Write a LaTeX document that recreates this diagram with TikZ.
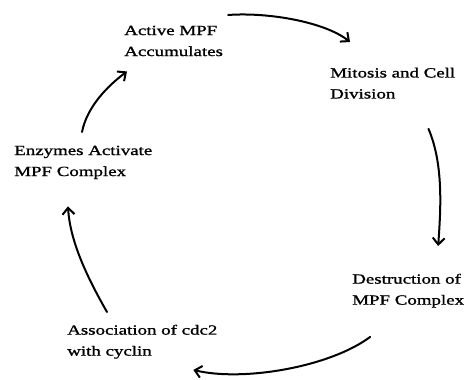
\documentclass[tikz,border=0pt]{standalone}
\usepackage{fontspec}
\setmainfont{Liberation Serif}[FakeStretch=1.35,FakeBold=1.2]
\usetikzlibrary{arrows.meta,calc}

\begin{document}
\begin{tikzpicture}[x=0.75pt,y=0.75pt,yscale=-1,xscale=1,
  stage/.style={anchor=north west,inner sep=0pt,align=left,font=\fontsize{10.5}{15.75}\selectfont},
  cyc/.style={line width=1.5pt,line cap=round,-{Straight Barb[length=5pt,width=9pt]}}]
\useasboundingbox (0,0) rectangle (467,379);

% Text Node
\node [stage] (acc) at (124,25.5) {Active MPF\\Accumulates};
% Text Node
\node [stage] (mit) at (330,67.5) {Mitosis and Cell\\Division};
% Text Node
\node [stage] (des) at (352,273.5) {Destruction of\\MPF Complex};
% Text Node
\node [stage] (ass) at (67,324.5) {Association of cdc2\\with cyclin};
% Text Node
\node [stage] (enz) at (14,145.5) {Enzymes Activate\\MPF Complex};

%Curve Lines
\draw [cyc] ($(acc.north east)+(5,-10.5)$) .. controls +(40,-3) and +(-25,-20) .. ($(mit.north west)+(20,-25.5)$);
\draw [cyc] ($(mit.south east)+(-27,30)$) .. controls +(16,37) and +(2,-31) .. ($(des.north)+(30,-27.5)$);
\draw [cyc] ($(des.south)+(-38,29)$) .. controls +(-40,30) and +(50,12) .. ($(ass.south)+(51,11)$);
\draw [cyc] ($(ass.north west)+(40,-12.5)$) .. controls +(-20,-35) and +(2,35) .. ($(enz.south west)+(54,27)$);
\draw [cyc] ($(enz.north west)+(68,-13.5)$) .. controls +(5,-25) and +(-20,15) .. ($(acc.south west)+(3,15)$);

\end{tikzpicture}
\end{document}
